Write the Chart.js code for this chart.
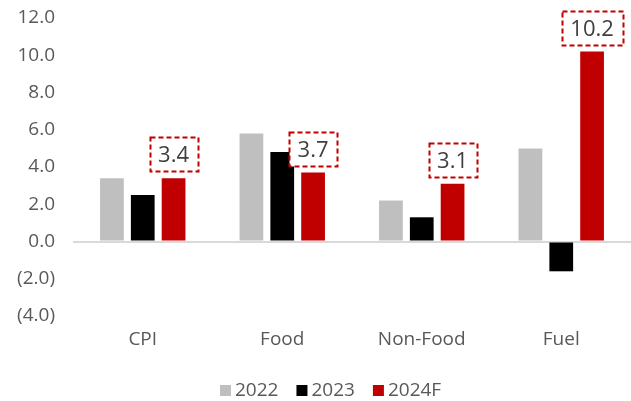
<!DOCTYPE html>
<html><head><meta charset="utf-8">
<script src="https://cdn.jsdelivr.net/npm/chart.js@4"></script>
<style>html,body{margin:0;padding:0;background:#fff;overflow:hidden;}#wrap{width:631px;height:401px;}</style>
</head><body><div id="wrap"><canvas id="c" width="631" height="401"></canvas></div>
<script>
const categories = ["CPI", "Food", "Non-Food", "Fuel"];
const seriesNames = ["2022", "2023", "2024F"];
const values2022 = [3.4, 5.8, 2.2, 5.0];
const values2023 = [2.5, 4.8, 1.3, -1.6];
const values2024F = [3.4, 3.7, 3.1, 10.2];
const yTicks = [12, 10, 8, 6, 4, 2, 0, -2, -4];
const seriesColors = ['#bfbfbf', '#000000', '#c00000'];

const FONT = "'Open Sans', sans-serif";

const boxLabels = {
  id: 'boxLabels',
  afterDatasetsDraw(chart) {
    const ctx = chart.ctx;
    const meta = chart.getDatasetMeta(2);
    ctx.save();
    meta.data.forEach((bar, i) => {
      const v = values2024F[i];
      const txt = v.toFixed(1);
      ctx.font = "22px " + FONT;
      const w = Math.round(ctx.measureText(txt).width + 17);
      const h = 34;
      const cx = bar.x;
      const bottom = bar.y - 7;
      const x0 = Math.round(cx - w / 2) + 0.5, y0 = Math.round(bottom - h) + 0.5;
      ctx.fillStyle = '#fff';
      ctx.fillRect(x0, y0, w, h);
      ctx.setLineDash([5, 3]);
      ctx.strokeStyle = '#c00000';
      ctx.lineWidth = 2;
      ctx.strokeRect(x0, y0, w, h);
      ctx.setLineDash([]);
      ctx.fillStyle = '#404040';
      ctx.textAlign = 'center';
      ctx.textBaseline = 'middle';
      ctx.fillText(txt, cx, y0 + h / 2 + 1);
    });
    ctx.restore();
  }
};

const customLegend = {
  id: 'customLegend',
  afterDraw(chart) {
    const ctx = chart.ctx;
    ctx.save();
    ctx.font = "19px " + FONT;
    const box = 11, gap = 4, itemGap = 18;
    const widths = seriesNames.map(n => box + gap + ctx.measureText(n).width);
    const total = widths.reduce((a, b) => a + b, 0) + itemGap * (widths.length - 1);
    let x = Math.round(chart.width / 2 + 15 - total / 2);
    const cy = 390;
    ctx.textBaseline = 'middle';
    ctx.textAlign = 'left';
    seriesNames.forEach((n, i) => {
      ctx.fillStyle = seriesColors[i];
      ctx.fillRect(x, cy - 5, box, box);
      ctx.fillStyle = '#595959';
      ctx.fillText(n, x + box + gap, cy + 1);
      x += widths[i] + itemGap;
    });
    ctx.restore();
  }
};

new Chart(document.getElementById('c'), {
  type: 'bar',
  data: {
    labels: categories,
    datasets: [
      { label: seriesNames[0], data: values2022, backgroundColor: seriesColors[0] },
      { label: seriesNames[1], data: values2023, backgroundColor: seriesColors[1] },
      { label: seriesNames[2], data: values2024F, backgroundColor: seriesColors[2] }
    ]
  },
  options: {
    responsive: false,
    animation: false,
    datasets: { bar: { categoryPercentage: 0.663, barPercentage: 0.77 } },
    layout: { padding: { top: 18, right: -3, left: 0, bottom: 35 } },
    plugins: {
      legend: { display: false },
      tooltip: { enabled: false }
    },
    scales: {
      x: {
        afterFit(axis) { axis.height = 50; axis.paddingLeft = 0; axis.paddingRight = 0; },
        grid: { display: false, drawTicks: false },
        border: { display: false },
        ticks: { color: '#595959', font: { size: 19, family: FONT }, padding: 12 }
      },
      y: {
        min: -4, max: 12,
        afterBuildTicks(axis) { axis.ticks = yTicks.map(v => ({ value: v })); },
        afterFit(axis) { axis.width = 73; axis.paddingTop = 0; axis.paddingBottom = 0; },
        grid: {
          drawTicks: false,
          color: ctx => (ctx.tick && ctx.tick.value === 0) ? '#d9d9d9' : 'rgba(0,0,0,0)',
          lineWidth: 2
        },
        border: { display: false },
        ticks: {
          color: '#595959', font: { size: 19, family: FONT }, padding: 18,
          callback: v => v < 0 ? '(' + Math.abs(v).toFixed(1) + ')' : v.toFixed(1)
        }
      }
    }
  },
  plugins: [boxLabels, customLegend]
});
</script></body></html>
